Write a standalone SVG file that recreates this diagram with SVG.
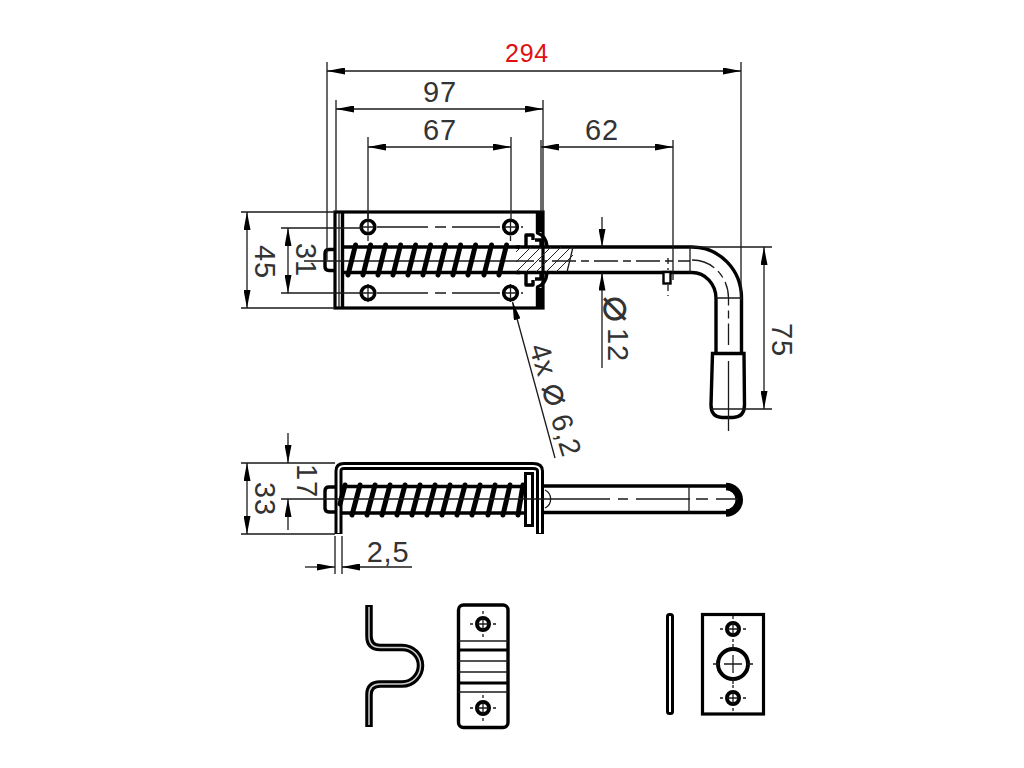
<svg xmlns="http://www.w3.org/2000/svg" width="1024" height="768" viewBox="0 0 1024 768">
<style>
.t{font-family:"Liberation Sans",Arial,sans-serif;font-size:29px;fill:#333;text-anchor:middle;letter-spacing:.8px}
.p{font-family:"DejaVu Sans",sans-serif;font-size:44px;fill:#333;text-anchor:middle}
.d{stroke:#1a1a1a;stroke-width:1.3;fill:none}
.c{stroke:#1a1a1a;stroke-width:1.3;fill:none;stroke-dasharray:24 5 8 5}
.m{stroke:#000;stroke-width:3.4;fill:none;stroke-linejoin:round}
.k{stroke:#000;stroke-width:5;fill:none;stroke-linecap:round}
.h{stroke:#000;stroke-width:3.6;fill:#fff}
.w{fill:#fff;stroke:#000;stroke-width:3.4}
.s{stroke:#222;stroke-width:1;fill:none}
</style>
<defs>
<marker id="a" viewBox="0 0 18 7" refX="18" refY="3.500" markerWidth="18" markerHeight="7" markerUnits="userSpaceOnUse" orient="auto-start-reverse"><path d="M0 0L18 3.500L0 7z" fill="#000"/></marker>
<g id="hole"><circle r="6.800" class="h"/><path d="M-6 0H6M0-6V6" class="d"/></g>
<g id="hole2"><circle r="6" fill="#fff" stroke="#000" stroke-width="4"/><path d="M-6 0H6M0-6V6M-13 0h3M10 0h3M0-13v3M0 10v3" class="d"/></g>
</defs>

<g id="top-view">
<rect x="335" y="212" width="208" height="96" fill="#fff" stroke="#000" stroke-width="3.200"/>
<path d="M342.500 213V307" class="m" stroke-width="2"/>
<path d="M339 213V307" class="d"/>
<path d="M343 247H520M343 272.500H520" class="m"/>
<path d="M335 249.500h-6q-4 0-4 4v13q0 4 4 4h6" class="m" stroke-width="2.400"/>
<path d="M304 261H510" class="d"/>
<path d="M377 227H428M435 227H446M452 227H500M377 293H428M435 293H446M452 293H500M521 227H523M521 293H523" class="d"/>
<path d="M368 211V218M368 236V241M368 284V302M510.500 236V241M510.500 284V302" class="d"/>
<g id="top-spring">
<path d="M355.500 245L348 275M370.500 245L363 275M385.500 245L378 275M400.500 245L393 275M415.500 245L408 275M430.500 245L423 275M445.500 245L438 275M460.500 245L453 275M475.500 245L468 275M491.500 245L484 275M506.500 245L499 275" class="k"/>
</g>
<use href="#hole" x="368" y="227"/><use href="#hole" x="510.500" y="227"/><use href="#hole" x="368" y="293"/><use href="#hole" x="510.500" y="293"/>
<g id="top-bolt">
<path d="M516 247H690M516 272.500H690" class="m"/>
<path d="M516 252L521 247M516 262L531 247M516 272L541 247M526 272L551 247M536 272L561 247M546 272L571 247M556 272L573 255" class="s"/>
<path d="M573 247L567 272" class="d"/>
<path d="M526 247V235H533V240M526 272.500V285H533V280" class="m"/>
<path d="M535 240H541V246M535 279H541V273" class="m" stroke-width="2.400"/>
<path d="M537.500 212V233Q546 236 547 246M537.500 308V287Q546 284 547 273" class="m" stroke-width="2.400"/>
<path d="M540.500 212V232M540.500 308V288" class="m" stroke-width="2.400"/>
<path d="M510 261H690" class="c"/>
</g>
<g id="top-handle">
<path d="M690 247H692A49.500 51 0 0 1 741.500 298V353M690 272.500H692A24 26 0 0 1 716 298.500V353" class="m"/>
<path d="M690 247V272.500M716 298H741.500" class="d"/>
<path d="M692 260A36 38 0 0 1 728.500 298V345" class="c"/>
<path d="M712.500 353.500H744L744.500 405Q744.500 417 733 417.500H722Q711 417 711 405z" class="w"/>
<path d="M711 409H772M728.500 361V431" class="d" stroke-dasharray="none"/>
<rect x="663.500" y="272" width="7" height="11.500" fill="#fff" stroke="#000" stroke-width="2.400"/>
<path d="M668 258V270M668 285V296" class="d" stroke-dasharray="6 4"/>
</g>
</g>

<g id="side-view">
<path d="M338.500 534V471Q338.500 466 344 466H533Q540 466 540 471V534" fill="none" stroke="#000" stroke-width="8"/>
<path d="M338.500 533V471Q338.500 466 344 466H533Q540 466 540 471V533" fill="none" stroke="#fff" stroke-width="2"/>
<path d="M335 487h-6q-4 0-4 4v17q0 4 4 4h6" class="m" stroke-width="2.400"/>
<path d="M342 486.500H525M342 513H525" class="m"/>
<g id="side-spring">
<path d="M345 485L340 504M360 485L352 515M375 485L367 515M390 485L382 515M405 485L397 515M420 485L412 515M435 485L427 515M450 485L442 515M465 485L457 515M480 485L472 515M495 485L488 515M510 485L503 515M523 485L518 515" class="k"/>
</g>
<rect x="525.500" y="473.500" width="7" height="52" fill="#fff" stroke="#000" stroke-width="3"/>
<path d="M543 486H727M543 512.500H727" class="m"/>
<path d="M545 490A10 10 0 0 1 545 508" class="d" stroke-width="3"/>
<path d="M726 486.500A13 13 0 0 1 726 513" fill="none" stroke="#000" stroke-width="7.500"/>
<path d="M689 486V512.500" class="d"/>
<path d="M281 499H610M618 499H628M636 499H690M696 499H708M716 499H738" class="d"/>
</g>

<g id="z-bracket">
<path d="M369 605V636Q369 647.500 380 647.500H402C413 647.500 420.500 656 420.500 665.500C420.500 675 413 684 402 684H380Q369 684 369 695V727" fill="none" stroke="#000" stroke-width="7.500"/>
<path d="M369 607V636Q369 647.500 380 647.500H402C413 647.500 420.500 656 420.500 665.500C420.500 675 413 684 402 684H380Q369 684 369 695V725" fill="none" stroke="#ccc" stroke-width="1.500"/>
</g>
<g id="z-bracket-front">
<rect x="458.500" y="605" width="49.500" height="122.500" rx="5" fill="#fff" stroke="#000" stroke-width="3.400"/>
<path d="M458 641H508M458 661H508M458 672H508M458 692H508" class="d"/>
<path d="M458 650H508M458 683H508" fill="none" stroke="#000" stroke-width="3"/>
<use href="#hole2" x="483" y="624"/><use href="#hole2" x="483" y="708"/>
</g>
<g id="plate-side"><rect x="667.500" y="614.500" width="5" height="99" rx="2" fill="#fff" stroke="#000" stroke-width="3"/></g>
<g id="plate-front">
<rect x="702.500" y="614.500" width="61" height="99.500" fill="#fff" stroke="#000" stroke-width="3.200"/>
<use href="#hole2" x="733" y="629"/><use href="#hole2" x="733" y="698"/>
<circle cx="733" cy="664" r="15" fill="#fff" stroke="#000" stroke-width="4"/>
<path d="M713 664H719M724 664H742M747 664H753M733 644V650M733 655V673M733 678V684" class="d"/>
</g>

<g id="connectors">
<path d="M327 62V260M741 62V300M336 100V212M543 100V212M368 137V220M511 137V220M541 140V212M673 140V280" class="d"/>
<path d="M327 71H741" class="d" marker-start="url(#a)" marker-end="url(#a)"/>
<path d="M336 109H543" class="d" marker-start="url(#a)" marker-end="url(#a)"/>
<path d="M368 147H511" class="d" marker-start="url(#a)" marker-end="url(#a)"/>
<path d="M541 147H673" class="d" marker-start="url(#a)" marker-end="url(#a)"/>
<path d="M241 212H335M241 308H335M281 228H362M281 293H362" class="d"/>
<path d="M247 212V308" class="d" marker-start="url(#a)" marker-end="url(#a)"/>
<path d="M288 228V293" class="d" marker-start="url(#a)" marker-end="url(#a)"/>
<path d="M602 217V247" class="d" marker-end="url(#a)"/>
<path d="M602 368V272.500" class="d" marker-end="url(#a)"/>
<path d="M690 247H772" class="d"/>
<path d="M764 247V409" class="d" marker-start="url(#a)" marker-end="url(#a)"/>
<path d="M555 458L512.500 302" class="d" marker-end="url(#a)"/>
<path d="M241 463H335M241 534H335" class="d"/>
<path d="M247 463V534" class="d" marker-start="url(#a)" marker-end="url(#a)"/>
<path d="M288 433V463" class="d" marker-end="url(#a)"/>
<path d="M288 530V499" class="d" marker-end="url(#a)"/>
<path d="M335 536V574M342 536V574" class="d"/>
<path d="M305 567H335" class="d" marker-end="url(#a)"/>
<path d="M412 567H342" class="d" marker-end="url(#a)"/>
</g>

<g id="labels">
<text x="527" y="62" class="t" style="fill:#e01010;font-size:25px">294</text>
<text x="440" y="102" class="t">97</text>
<text x="440" y="140" class="t">67</text>
<text x="602" y="140" class="t">62</text>
<text class="t" transform="translate(255 262) rotate(90)">45</text>
<text class="t" transform="translate(296 260) rotate(90)">31</text>
<text class="t" transform="translate(608 345) rotate(90)">12</text>
<text class="p" transform="translate(604 309) rotate(90)">⌀</text>
<text class="t" transform="translate(772 340) rotate(90)">75</text>
<text class="t" transform="translate(255 499) rotate(90)">33</text>
<text class="t" transform="translate(297 481) rotate(90)">17</text>
<text x="388" y="562" class="t">2,5</text>
<text class="t" transform="translate(546 403) rotate(73)">4x <tspan style="font-family:'DejaVu Sans',sans-serif;font-size:38px">⌀</tspan> 6,2</text>
</g>
</svg>
